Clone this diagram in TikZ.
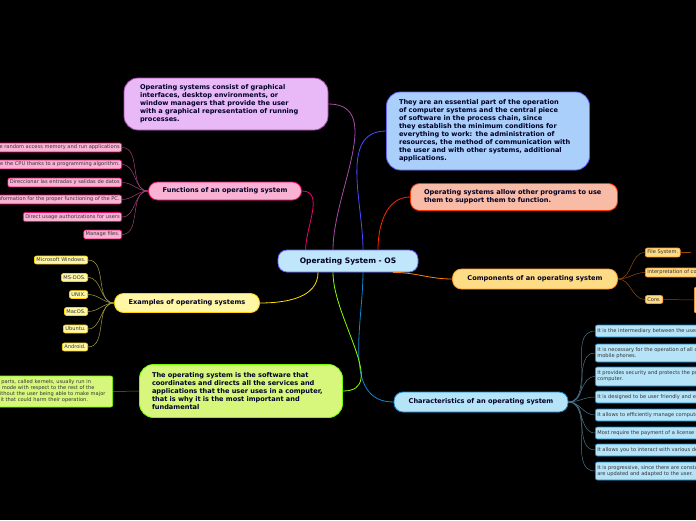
\documentclass[tikz,border=0pt]{standalone}
\usepackage{fontspec}
\setmainfont{DejaVu Sans}
\definecolor{cpur}{HTML}{E9B8F7}
\definecolor{cblu}{HTML}{A9CFFA}
\definecolor{csal}{HTML}{F8BBA6}
\definecolor{ccomp}{HTML}{FEDC86}
\definecolor{cchar}{HTML}{B5E3F8}
\definecolor{cfun}{HTML}{F9B2D4}
\definecolor{cex}{HTML}{FFF6A6}
\definecolor{cgr}{HTML}{D6F77C}
\definecolor{cb}{HTML}{BFE6FB}
\begin{document}
\begin{tikzpicture}[x=1pt,y=-1pt,
 execute at begin node={\hyphenpenalty=10000\exhyphenpenalty=10000},
 leaf/.style={draw=#1,rounded corners=2pt,line width=0.7pt,font=\fontsize{5.1}{6}\selectfont,inner sep=2pt,text=black!80},
 main/.style={rounded corners=9pt,line width=0.8pt,font=\bfseries\fontsize{6.6}{8}\selectfont,text=black!85!blue,inner sep=4pt,align=left},
 con/.style={line width=0.8pt},
 lc/.style={line width=0.5pt}]
\fill[black] (0,0) rectangle (696,520);
\clip (0,0) rectangle (696,520);
\useasboundingbox (0,0) rectangle (696,520);
\node[main,fill=cb,draw=blue!60,minimum width=140pt,minimum height=22pt,font=\bfseries\fontsize{7.5}{9}\selectfont] (os) at (348,261) {Operating System - OS};
\node[main,fill=cpur,draw=violet!70,minimum width=204pt,minimum height=52pt,text width=172pt,rounded corners=14pt] (pur) at (226,104) {Operating systems consist of graphical interfaces, desktop environments, or window managers that provide the user with a graphical representation of running processes.};
\node[main,fill=cblu,draw=blue!60,minimum width=203pt,minimum height=78pt,text width=178pt,rounded corners=14pt] (blu) at (488,131) {They are an essential part of the operation of computer systems and the central piece of software in the process chain, since they establish the minimum conditions for everything to work: the administration of resources, the method of communication with the user and with other systems, additional applications.};
\node[main,fill=csal,draw=red!60!orange,minimum width=207pt,minimum height=27pt,text width=180pt] (sal) at (514,197) {Operating systems allow other programs to use them to support them to function.};
\node[main,fill=ccomp,draw=orange!80,minimum width=165pt,minimum height=20pt] (comp) at (535,279) {Components of an operating system};
\node[main,fill=cchar,draw=cyan!70!blue,minimum width=174pt,minimum height=20pt] (char) at (481,402) {Characteristics of an operating system};
\node[main,fill=cfun,draw=magenta!70!red,minimum width=153pt,minimum height=18pt] (fun) at (225,191) {Functions of an operating system};
\node[main,fill=cex,draw=yellow!70!orange,minimum width=145pt,minimum height=19pt] (ex) at (187,303) {Examples of operating systems};
\node[main,fill=cgr,draw=lime!60!green,minimum width=203pt,minimum height=53pt,text width=178pt,rounded corners=14pt] (gr) at (241,391) {The operating system is the software that coordinates and directs all the services and applications that the user uses in a computer, that is why it is the most important and fundamental};
\draw[con,violet!70] (os.north) ++(-15,0) to[out=90,in=0] (pur.east);
\draw[con,blue!70] (os.north) ++(15,0) to[out=90,in=180] (blu.west);
\draw[con,red!70!orange] (os.north) ++(30,0) to[out=90,in=180] (sal.west);
\draw[con,orange] (os.south) ++(45,0) to[out=0,in=180] (comp.west);
\draw[con,cyan!70!blue] (os.south) ++(15,0) to[out=-90,in=180] (char.west);
\draw[con,magenta!80!red] (os.west) ++(28,-11) to[out=90,in=0] (fun.east);
\draw[con,yellow!80!orange] (os.south) ++(-30,0) to[out=-90,in=0] (ex.east);
\draw[con,lime!70!green] (os.south) ++(-15,0) to[out=-90,in=0] (gr.east);
\foreach \t/\y [count=\i] in {Allocate random access memory and run applications/147.5,Manage the CPU thanks to a programming algorithm./164.5,Direccionar las entradas y salidas de datos/182.5,Provide information for the proper functioning of the PC./199.5,Direct usage authorizations for users/217,Manage files./234.5}{
 \node[leaf=magenta!70!red,fill=cfun,anchor=east] (f\i) at (122,\y) {\t};
 \draw[lc,magenta!60!black] (f\i.east) to[out=0,in=180] (fun.west);}
\foreach \t/\y [count=\i] in {Microsoft Windows./260,MS-DOS./277.5,UNIX./294.5,MacOS./311.5,Ubuntu./329,Android./347}{
 \node[leaf=yellow!70!orange,fill=cex,anchor=east] (e\i) at (88,\y) {\t};
 \draw[lc,yellow!60!black] (e\i.east) to[out=0,in=180] (ex.west);}
\node[leaf=lime!60!green,fill=cgr,anchor=east,text width=140pt,minimum height=31pt,align=left] (g1) at (113,391.5) {The central parts, called kernels, usually run in a protected mode with respect to the rest of the software, without the user being able to make major changes to it that could harm their operation.};
\draw[lc,lime!50!black] (g1.east) -- (gr.west);
\foreach \t/\y [count=\i] in {File System./252.5,Interpretation of commands./272.5}{
 \node[leaf=orange!80,fill=ccomp,anchor=west] (c\i) at (645,\y) {\t};
 \draw[lc,orange!60!black] (comp.east) to[out=0,in=180] (c\i.west);}
\node[leaf=orange!80,fill=ccomp,anchor=west] (c3) at (645,299.5) {Core.};
\draw[lc,orange!60!black] (comp.east) to[out=0,in=180] (c3.west);
\node[leaf=orange!80,fill=ccomp,anchor=west,minimum height=26pt,text width=60pt] (c4) at (694,300) {The kernel};
\draw[lc,orange!60!black] (c3.east) -- (c4.west);
\draw[lc,orange!60!black] (c1.east) -- ++(10,0);
\foreach \t/\y/\h [count=\i] in {It is the intermediary between the user and the hardware./331/12,{It is necessary for the operation of all computers, tablets and\\mobile phones.}/353/18,{It provides security and protects the programs and files of the\\computer.}/376.5/19,It is designed to be user friendly and easy to use./397/12,It allows to efficiently manage computer resources./415/12,Most require the payment of a license for their use./433/12,It allows you to interact with various devices./450/12,{It is progressive, since there are constantly new versions that\\are updated and adapted to the user.}/471/18}{
 \node[leaf=cyan!70!blue,fill=cchar,anchor=west,minimum height=\h pt,align=left] (k\i) at (595,\y) {\t};
 \draw[lc,cyan!50!black] (char.east) to[out=0,in=180] (k\i.west);}
\end{tikzpicture}
\end{document}
